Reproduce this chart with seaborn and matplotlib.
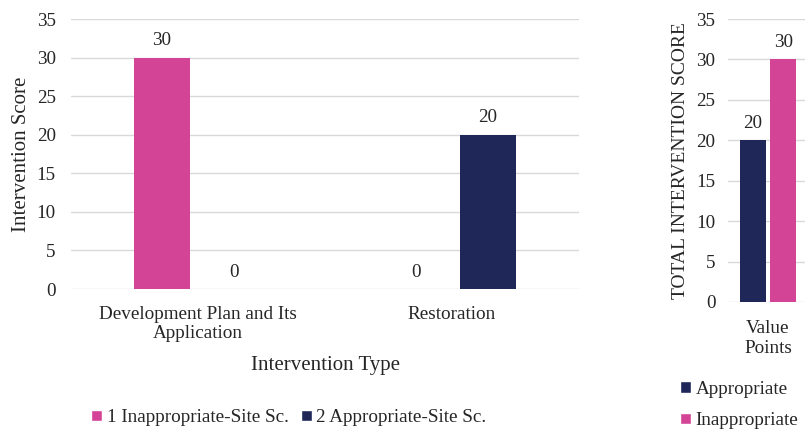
import matplotlib
matplotlib.use("Agg")
import matplotlib.pyplot as plt
from matplotlib.patches import Patch
import seaborn as sns
import pandas as pd

# Data
intervention_types = ["Development Plan and Its\nApplication", "Restoration"]
scenario_names = ["1 Inappropriate-Site Sc.", "2 Appropriate-Site Sc."]
inappropriate_scores = [30, 0]
appropriate_scores = [0, 20]

total_category = ["Value\nPoints"]
total_names = ["Appropriate", "Inappropriate"]
total_scores = [20, 30]

PINK = "#D34497"
NAVY = "#1F2759"
GRID = "#D9D9D9"
TEXT = "#262626"

sns.set_theme(style="white")
plt.rcParams["font.family"] = ["Liberation Serif", "DejaVu Serif"]
plt.rcParams["text.color"] = TEXT
plt.rcParams["axes.labelcolor"] = TEXT
plt.rcParams["xtick.color"] = TEXT
plt.rcParams["ytick.color"] = TEXT

FS = 13.8

left_df = pd.DataFrame({
    "type": intervention_types * 2,
    "scenario": [scenario_names[0]] * 2 + [scenario_names[1]] * 2,
    "score": inappropriate_scores + appropriate_scores,
})
right_df = pd.DataFrame({
    "cat": total_category * 2,
    "name": total_names,
    "score": total_scores,
})

fig = plt.figure(figsize=(8.05, 4.32), dpi=100)
ax1 = fig.add_axes([71 / 805, 1 - 289 / 432, 508 / 805, 270 / 432])
ax2 = fig.add_axes([728 / 805, 1 - 302 / 432, 80 / 805, 283 / 432])


def style_axis(ax, xpad, ypad):
    ax.set_ylim(0, 35)
    ax.set_yticks(range(0, 36, 5))
    ax.yaxis.grid(True, color=GRID, linewidth=1.0)
    ax.set_axisbelow(True)
    for s in ax.spines.values():
        s.set_visible(False)
    ax.tick_params(axis="both", length=0, labelsize=FS)
    ax.tick_params(axis="x", pad=xpad)
    ax.tick_params(axis="y", pad=ypad)


sns.barplot(data=left_df, x="type", y="score", hue="scenario",
            hue_order=scenario_names, palette=[PINK, NAVY], saturation=1,
            width=0.567, gap=0.21, linewidth=0, ax=ax1, legend=False)
style_axis(ax1, 12, 11)
ax1.set_xlim(-0.5, 1.5)
ax1.set_ylabel("Intervention Score", fontsize=15, labelpad=4)
ax1.set_xlabel("Intervention Type", fontsize=15, labelpad=10)
for c in ax1.containers:
    ax1.bar_label(c, fmt="%d", padding=6, fontsize=FS)

sns.barplot(data=right_df, x="cat", y="score", hue="name",
            hue_order=total_names, palette=[NAVY, PINK], saturation=1,
            width=0.76, gap=0.145, linewidth=0, ax=ax2, legend=False)
style_axis(ax2, 13, 9)
ax2.set_xlim(-0.5, 0.5)
ax2.set_ylabel("TOTAL INTERVENTION SCORE", fontsize=14, labelpad=5)
ax2.set_xlabel("")
for c in ax2.containers:
    ax2.bar_label(c, fmt="%d", padding=6, fontsize=FS)

left_handles = [Patch(facecolor=PINK, label=scenario_names[0]),
                Patch(facecolor=NAVY, label=scenario_names[1])]
fig.legend(handles=left_handles, loc="center", bbox_to_anchor=(289 / 805, 1 - 418 / 432),
           ncol=2, frameon=False, fontsize=FS, handlelength=0.55, handleheight=0.55,
           handletextpad=0.25, columnspacing=0.65, borderpad=0)

right_handles = [Patch(facecolor=NAVY, label=total_names[0]),
                 Patch(facecolor=PINK, label=total_names[1])]
fig.legend(handles=right_handles, loc="center left", bbox_to_anchor=(680 / 805, 1 - 405 / 432),
           ncol=1, frameon=False, fontsize=FS, handlelength=0.55, handleheight=0.55,
           handletextpad=0.25, labelspacing=0.75, borderpad=0, borderaxespad=0)

fig.savefig("out.png", dpi=100, facecolor="white")
